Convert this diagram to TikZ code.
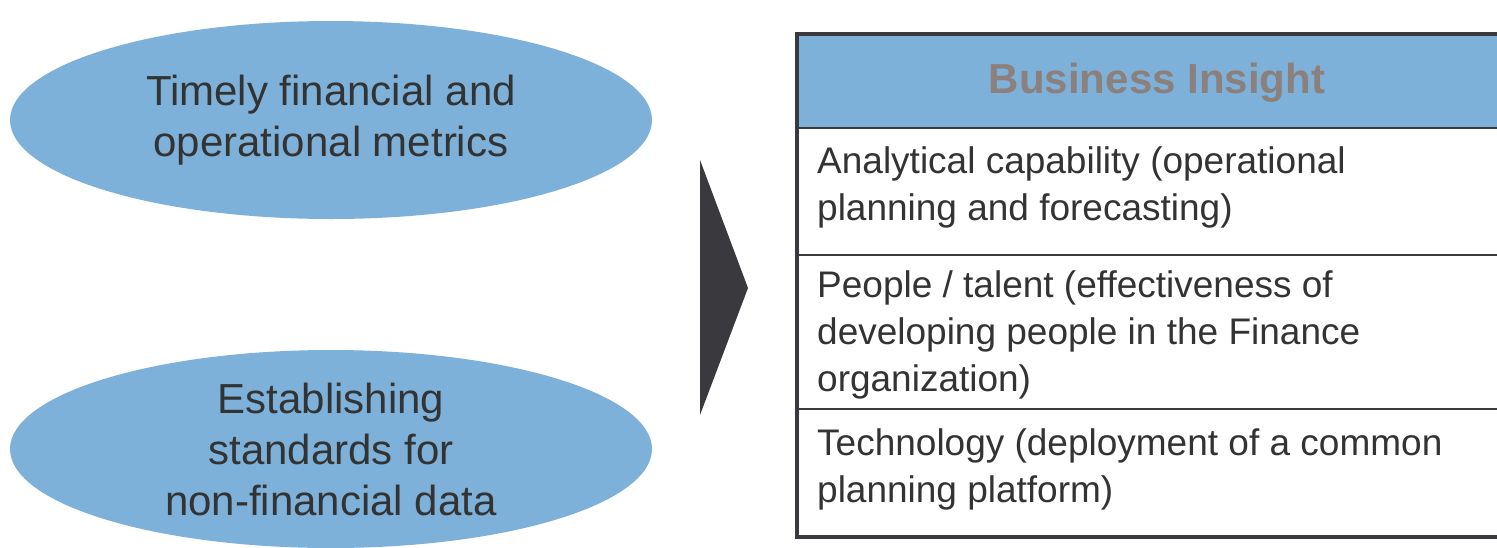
\documentclass[tikz,border=0pt]{standalone}
\usepackage{fontspec}
\setmainfont{Liberation Sans}
\usetikzlibrary{shapes.geometric}
\definecolor{ovalblue}{HTML}{7DB1D9}
\definecolor{darkline}{HTML}{3A3A3E}
\definecolor{headgray}{HTML}{8C807D}
\definecolor{textdark}{HTML}{333333}
\begin{document}
\begin{tikzpicture}[x=1pt,y=-1pt,
	oval/.style={ellipse,fill=ovalblue,minimum width=642pt,minimum height=198pt,inner sep=0pt,align=center,text=textdark,font=\fontsize{42}{51}\selectfont},
	rowtext/.style={anchor=west,align=left,inner sep=0pt,text=textdark,font=\fontsize{37}{47}\selectfont}]
		\useasboundingbox (0,0) rectangle (1497,547);
		% ovals
		\node [oval] (metrics) at (331,120) {Timely financial and\\operational metrics};
		\node [oval] (standards) at (331,449) {Establishing\\standards for\\non-financial data};
		% arrow
		\fill[darkline] (700,160) -- (748,288) -- (700,415) -- cycle;
		% table
		\fill[ovalblue] (797,34) rectangle (1497,128);
		\draw[darkline,line width=2pt] (797,128) -- (1497,128);
		\draw[darkline,line width=1.5pt] (797,255) -- (1497,255);
		\draw[darkline,line width=1.5pt] (797,409) -- (1497,409);
		\draw[darkline,line width=4pt] (1497,34) -- (797,34) -- (797,537) -- (1497,537);
		\node [font=\bfseries\fontsize{42}{50}\selectfont,text=headgray] (insight) at (1157,83) {Business Insight};
		\node [rowtext] (analytics) at (817,187) {Analytical capability (operational\\planning and forecasting)};
		\node [rowtext] (people) at (817,335) {People / talent (effectiveness of\\developing people in the Finance\\organization)};
		\node [rowtext] (technology) at (817,469) {Technology (deployment of a common\\planning platform)};
	\end{tikzpicture}
\end{document}
